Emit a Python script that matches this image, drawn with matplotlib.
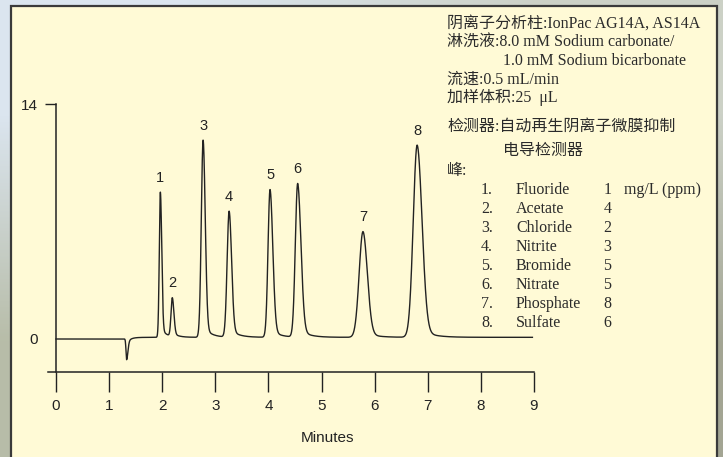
import numpy as np
import matplotlib
matplotlib.use('Agg')
import matplotlib.pyplot as plt
from matplotlib.patches import Rectangle

# ---------------- data ----------------
peak_labels = ['1', '2', '3', '4', '5', '6', '7', '8']
peak_times = [1.965, 2.19, 2.77, 3.26, 4.03, 4.55, 5.78, 6.80]          # min
peak_heights = [8.65, 2.3, 11.75, 7.5, 8.8, 9.15, 6.3, 11.45]          # above baseline
peak_sigma_left = [0.020, 0.024, 0.034, 0.038, 0.038, 0.044, 0.072, 0.074]
peak_sigma_right = [0.026, 0.030, 0.040, 0.046, 0.052, 0.062, 0.082, 0.092]
peak_tail_frac = [0.07, 0.10, 0.06, 0.07, 0.06, 0.06, 0.05, 0.05]
peak_tail_tau = [0.10, 0.10, 0.13, 0.15, 0.15, 0.17, 0.20, 0.22]

dip_time = 1.33          # water dip
dip_depth = -1.25
dip_sigma_left = 0.012
dip_sigma_right = 0.024
dip_tail_frac = 0.18
dip_tail_tau = 0.08
baseline_after_dip = 0.10
run_end = 8.97

x_ticks = [0, 1, 2, 3, 4, 5, 6, 7, 8, 9]
y_ticks = [0, 14]

table_nums = ['1.', '2.', '3.', '4.', '5.', '6.', '7.', '8.']
table_names = ['Fluoride', 'Acetate', 'Chloride', 'Nitrite', 'Bromide', 'Nitrate',
               'Phosphate', 'Sulfate']
table_conc = ['1', '4', '2', '3', '5', '5', '8', '6']

info_lines = [
    ('阴离子分析柱:IonPac AG14A, AS14A', 447, 27.7),
    ('淋洗液:8.0 mM Sodium carbonate/', 447, 46.5),
    ('1.0 mM Sodium bicarbonate', 503, 65.0),
    ('流速:0.5 mL/min', 447, 83.5),
    ('加样体积:25  μL', 447, 102.0),
    ('检测器:自动再生阴离子微膜抑制', 447, 130.5),
    ('电导检测器', 503, 155.0),
    ('峰:', 447, 175.0),
]


# ---------------- trace construction ----------------
def peak_shape(t, t0, h, sl, sr, k, tau):
    dt = t - t0
    left = np.exp(-0.5 * (dt / sl) ** 2)
    dtp = np.clip(dt, 0, None)
    right = (1 - k) * np.exp(-0.5 * (dtp / sr) ** 2) + k * np.exp(-dtp / tau)
    return h * np.where(dt < 0, left, right)


t = np.linspace(0, run_end, 6000)
y = np.zeros_like(t)
y += baseline_after_dip / (1 + np.exp(-(t - dip_time - 0.05) / 0.03))
y += peak_shape(t, dip_time, dip_depth, dip_sigma_left, dip_sigma_right,
                dip_tail_frac, dip_tail_tau)
for i in range(len(peak_times)):
    y += peak_shape(t, peak_times[i], peak_heights[i], peak_sigma_left[i],
                    peak_sigma_right[i], peak_tail_frac[i], peak_tail_tau[i])

# ---------------- figure ----------------
W, H = 723, 457
fig = plt.figure(figsize=(W / 100, H / 100), dpi=100)

# outer background (soft gradient)
bg = fig.add_axes([0, 0, 1, 1], zorder=0)
grad = np.array([[[0.86, 0.90, 0.94], [0.80, 0.82, 0.78]],
                 [[0.72, 0.74, 0.66], [0.64, 0.65, 0.58]]])
bg.imshow(grad, extent=[0, 1, 0, 1], aspect='auto', interpolation='bilinear')
bg.set_xlim(0, 1)
bg.set_ylim(0, 1)
bg.axis('off')
bg.add_patch(Rectangle((11 / W, -0.05), (717 - 11) / W, 1.05 - 5.5 / H,
                       facecolor='#fffad6', edgecolor='#3a3a3a', lw=1.6,
                       transform=bg.transAxes))

# pixel geometry of the plot
px0, px9 = 56.0, 534.0
py0, py14 = 339.0, 104.0
ax_l, ax_r, ax_t, ax_b = 40.0, 560.0, 60.0, 400.0
sx = (px9 - px0) / 9.0
sy = (py0 - py14) / 14.0

ax = fig.add_axes([ax_l / W, 1 - ax_b / H, (ax_r - ax_l) / W, (ax_b - ax_t) / H],
                  zorder=2)
ax.patch.set_alpha(0)
ax.set_xlim((ax_l - px0) / sx, (ax_r - px0) / sx)
ax.set_ylim((py0 - ax_b) / sy, (py0 - ax_t) / sy)

ink = '#222222'
ax.plot(t, y, color=ink, lw=1.0, solid_joinstyle='round')

for lab, tt in zip(peak_labels, peak_times):
    ytop = np.interp(tt, t, y)
    ax.annotate(lab, (tt, ytop), xytext=(0, 10.5), textcoords='offset points',
                ha='center', va='center', fontsize=10.5,
                family='Liberation Sans', color=ink)

for s in ['top', 'right']:
    ax.spines[s].set_visible(False)
ax.spines['left'].set_position(('data', 0))
ax.spines['left'].set_bounds(-1.97, 14)
ax.spines['bottom'].set_position(('data', -1.97))
ax.spines['bottom'].set_bounds(-0.15, 9)
for s in ['left', 'bottom']:
    ax.spines[s].set_color(ink)
    ax.spines[s].set_linewidth(1.1)

ax.set_xticks(x_ticks)
ax.set_xticklabels([str(v) for v in x_ticks], family='Liberation Sans',
                   fontsize=11, color=ink)
ax.tick_params(axis='x', direction='out', length=14.5, width=1.0, color=ink, pad=5)
ax.set_yticks(y_ticks)
ax.set_yticklabels([str(v) for v in y_ticks], family='Liberation Sans',
                   fontsize=11, color=ink)
ax.tick_params(axis='y', direction='out', length=8, width=1.0, color=ink, pad=5)
ax.yaxis.get_major_ticks()[0].tick1line.set_visible(False)

ax.set_xlabel('Minutes', family='Liberation Sans', fontsize=11, color=ink)
ax.xaxis.set_label_coords((327 - ax_l) / (ax_r - ax_l), (ax_b - 438) / (ax_b - ax_t))
ax.xaxis.label.set_va('center')

# ---------------- info text ----------------
fam = ['Liberation Serif', 'Noto Sans CJK SC']
tcol = '#2b2b2b'
fs = 11.5


def ftext(px, py, s, **kw):
    fig.text(px / W, 1 - py / H, s, family=fam, fontsize=fs, color=tcol,
             va='baseline', weight='medium', zorder=5, **kw)


for s, px, py in info_lines:
    ftext(px, py, s)

row0, drow = 194.0, 19.0
for i in range(len(table_names)):
    py = row0 + i * drow
    ftext(481, py, table_nums[i])
    ftext(516, py, table_names[i])
    ftext(607.5, py, table_conc[i], ha='center')
ftext(624, row0, 'mg/L (ppm)')

fig.savefig('out.png', dpi=100)
